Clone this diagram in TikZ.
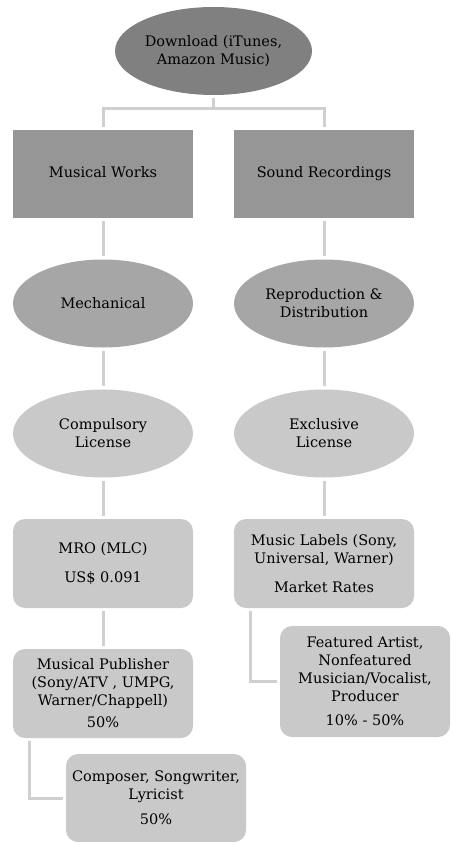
\documentclass[tikz,border=0pt]{standalone}
\usepackage{fontspec}
\setmainfont{DejaVu Serif}
\usetikzlibrary{shapes.geometric}
\definecolor{cTop}{HTML}{808080}
\definecolor{cRect}{HTML}{969696}
\definecolor{cMid}{HTML}{A6A6A6}
\definecolor{cLight}{HTML}{C9C9C9}
\definecolor{cLine}{HTML}{D0D0D0}
\begin{document}
\begin{tikzpicture}[x=1pt,y=-1pt,
  every node/.style={font=\fontsize{14.5}{18}\selectfont, align=center, text=black, inner sep=1pt},
  ell/.style={ellipse, minimum width=180pt, minimum height=88pt},
  topell/.style={ell, fill=cTop, minimum width=197pt, minimum height=88pt},
  sqbox/.style={rectangle, fill=cRect, minimum width=180pt, minimum height=88pt},
  rbox/.style={rectangle, rounded corners=12pt, fill=cLight, minimum width=180pt, minimum height=89pt},
  conn/.style={draw=cLine, line width=3pt, shorten <=3pt, shorten >=3pt}
]
\useasboundingbox (0,0) rectangle (450,842);
\node[topell] (dl) at (213.5,51) {Download (iTunes,\\Amazon Music)};
\node[sqbox] (mw) at (103,174) {\strut Musical Works};
\node[sqbox] (sr) at (324,174) {\strut Sound Recordings};
\node[ell, fill=cMid] (mech) at (103,303.5) {Mechanical};
\node[ell, fill=cMid] (rd) at (324,303.5) {Reproduction \&\\Distribution};
\node[ell, fill=cLight] (cl) at (103,433.5) {Compulsory\\License};
\node[ell, fill=cLight] (el) at (324,433.5) {Exclusive\\License};
\node[rbox] (mro) at (103,563.5) {MRO (MLC)\\[11pt]US\$ 0.091};
\node[rbox] (ml) at (324,563.5) {Music Labels (Sony,\\Universal, Warner)\\[11pt]Market Rates};
\node[rbox] (pub) at (103,693.5) {Musical Publisher\\(Sony/ATV , UMPG,\\Warner/Chappell)\\[4pt]50\%};
\node[rbox, minimum width=170pt, minimum height=111pt] (feat) at (365,681.5) {Featured Artist,\\Nonfeatured\\Musician/Vocalist,\\Producer\\[6pt]10\% - 50\%};
\node[rbox, minimum height=88pt] (comp) at (156,798) {Composer, Songwriter,\\Lyricist\\[7pt]50\%};
\path (dl.south) ++(0,13) coordinate (j);
\draw[conn, shorten >=0pt] (dl) -- (j);
\draw[conn, shorten <=0pt] (j) -| (mw);
\draw[conn, shorten <=0pt] (j) -| (sr);
\draw[conn] (mw) -- (mech);
\draw[conn] (sr) -- (rd);
\draw[conn] (mech) -- (cl);
\draw[conn] (rd) -- (el);
\draw[conn] (cl) -- (mro);
\draw[conn] (el) -- (ml);
\draw[conn] (mro) -- (pub);
\draw[conn] ([xshift=17pt]pub.south west) |- (comp);
\draw[conn] ([xshift=17pt]ml.south west) |- (feat);
\end{tikzpicture}
\end{document}
